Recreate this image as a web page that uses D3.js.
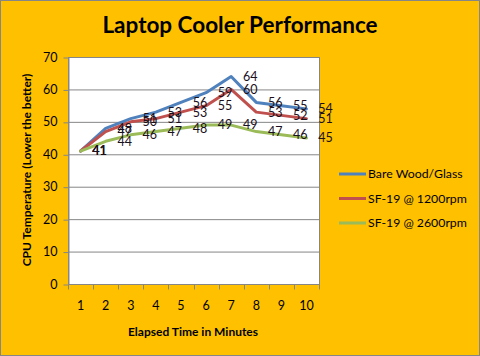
<!DOCTYPE html>
<html><head><meta charset="utf-8">
<script src="https://cdn.jsdelivr.net/npm/d3@7"></script>
<style>body{margin:0;padding:0;background:#fff}svg{display:block}</style>
</head><body>
<script>
const categories = [1,2,3,4,5,6,7,8,9,10];
const seriesNames = ["Bare Wood/Glass","SF-19 @ 1200rpm","SF-19 @ 2600rpm"];
const bareWood = [41,48,51,53,56,59,64,56,55,54];
const sf1200 = [41,47,50,51,53,55,60,53,52,51];
const sf2600 = [41,44,46,47,48,49,49,47,46,45];
const yTicks = [0,10,20,30,40,50,60,70];
const colors = ["#4F81BD","#C0504D","#9BBB59"];
const series = [bareWood, sf1200, sf2600];

const W=480,H=356;
const font = "Lato, 'Open Sans', sans-serif";
const svg = d3.select("body").append("svg").attr("width",W).attr("height",H);
svg.append("rect").attr("x",0.5).attr("y",0.5).attr("width",W-1).attr("height",H-1)
  .attr("fill","#FFC000").attr("stroke","#868686");

const L=68,R=319,T=57,B=284;
const x = d3.scaleBand().domain(categories).range([L,R]).padding(0);
const y = d3.scaleLinear().domain([0,70]).range([B,T]);

svg.append("rect").attr("x",L).attr("y",T).attr("width",R-L).attr("height",B-T).attr("fill","#fff");

// grid
svg.append("g").selectAll("line").data(yTicks.filter(v=>v>0)).join("line")
  .attr("x1",L).attr("x2",R).attr("y1",d=>y(d)+0.5).attr("y2",d=>y(d)+0.5)
  .attr("stroke","#868686").attr("stroke-width",1);
svg.append("rect").attr("x",L+0.5).attr("y",T+0.5).attr("width",R-L).attr("height",B-T)
  .attr("fill","none").attr("stroke","#868686");

// y axis
const ya = svg.append("g").attr("transform",`translate(${L+0.5},0)`)
  .call(d3.axisLeft(y).tickValues(yTicks).tickSize(5).tickPadding(6).tickSizeOuter(0));
ya.select(".domain").attr("stroke","#868686");
ya.selectAll(".tick line").attr("stroke","#868686").attr("transform","translate(0,0.5)");
ya.selectAll("text").attr("font-family",font).attr("font-size",12.5).attr("fill","#000");

// x axis
const xa = svg.append("g").attr("transform",`translate(0,${B+0.5})`);
xa.append("line").attr("x1",L).attr("x2",R+1).attr("stroke","#868686");
const xb = [...categories.map(c=>x(c)), R];
xa.selectAll("line.t").data(xb).join("line").attr("class","t")
  .attr("x1",d=>Math.round(d)+0.5).attr("x2",d=>Math.round(d)+0.5).attr("y1",0).attr("y2",5).attr("stroke","#868686");
xa.selectAll("text").data(categories).join("text")
  .attr("x",d=>x(d)+x.bandwidth()/2).attr("y",25).attr("text-anchor","middle")
  .attr("font-family",font).attr("font-size",12.5).attr("fill","#000").text(d=>d);

// lines
const line = d3.line().x((d,i)=>x(categories[i])+x.bandwidth()/2).y(d=>y(d));
series.forEach((s,k)=>{
  svg.append("path").datum(s).attr("d",line).attr("fill","none")
    .attr("stroke",colors[k]).attr("stroke-width",3).attr("stroke-linejoin","round").attr("stroke-linecap","round");
});
// labels
series.forEach((s,k)=>{
  svg.append("g").selectAll("text").data(s).join("text")
    .attr("x",(d,i)=>x(categories[i])+x.bandwidth()/2+19).attr("y",d=>y(d)).attr("dy","0.35em")
    .attr("text-anchor","middle").attr("font-family",font).attr("font-size",12.5).attr("fill","#1a0f1a")
    .text(d=>d);
});

// title
svg.append("text").attr("x",240).attr("y",33).attr("text-anchor","middle")
  .attr("font-family",font).attr("font-weight","bold").attr("font-size",22.5).attr("fill","#000")
  .text("Laptop Cooler Performance");
svg.append("text").attr("x",193).attr("y",336).attr("text-anchor","middle")
  .attr("font-family",font).attr("font-weight","bold").attr("font-size",12).attr("fill","#000")
  .text("Elapsed Time in Minutes");
svg.append("text").attr("transform","translate(31,170) rotate(-90)").attr("text-anchor","middle")
  .attr("font-family",font).attr("font-weight","bold").attr("font-size",12).attr("fill","#000")
  .text("CPU Temperature (Lower the better)");

// legend
const lg = svg.append("g");
seriesNames.forEach((n,k)=>{
  const yy = 174 + k*24.5;
  lg.append("line").attr("x1",339).attr("x2",366).attr("y1",yy).attr("y2",yy).attr("stroke",colors[k]).attr("stroke-width",3);
  lg.append("text").attr("x",368).attr("y",yy).attr("dy","0.35em").attr("font-family",font).attr("font-size",12.3).attr("fill","#000").text(n);
});
</script>
</body></html>
